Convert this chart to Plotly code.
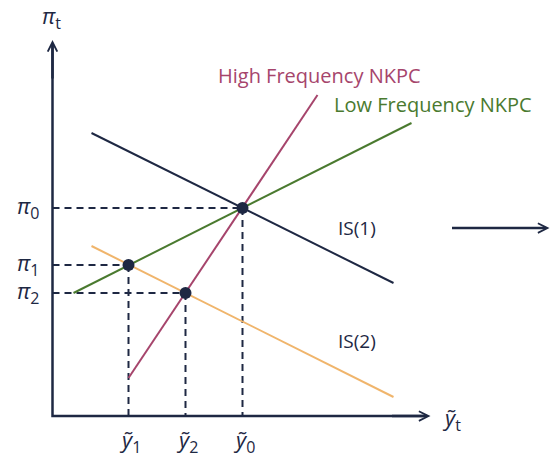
import plotly.graph_objects as go

# Coordinates are measured from the corner where the two axes meet.
# Output gaps on the horizontal axis and inflation rates on the vertical axis.
SUB = "<sub><span style='font-size:16px'>{}</span></sub>"
y_gap_labels = ["<i>ỹ</i>" + SUB.format("1"), "<i>ỹ</i>" + SUB.format("2"), "<i>ỹ</i>" + SUB.format("0")]
y_gap = [76, 133, 190]
pi_labels = ["<i>π</i>" + SUB.format("0"), "<i>π</i>" + SUB.format("1"), "<i>π</i>" + SUB.format("2")]
pi_vals = [208, 151, 123]

# Equilibria: (ỹ0, π0), (ỹ1, π1), (ỹ2, π2)
eq_x = [190, 76, 133]
eq_y = [208, 151, 123]

# Curve end points
is1_x = [39, 341]
is1_y = [283, 133]
is2_x = [39, 341]
is2_y = [170, 19]
lf_x = [21, 359]
lf_y = [123, 293]
hf_x = [76, 265]
hf_y = [38, 321]

# Axis extents
x_axis_end = 378
y_axis_end = 376

NAVY = "#1e2843"
CRIMSON = "#a6456c"
GREEN = "#4a7a2f"
ORANGE = "#f0b56c"
FONT = "Open Sans"

fig = go.Figure()

# Guide lines from the axes to each equilibrium
for gx, gy in zip(eq_x, eq_y):
    fig.add_trace(go.Scatter(x=[0, gx], y=[gy, gy], mode="lines",
                             line=dict(color=NAVY, width=2, dash="7px,5px"),
                             hoverinfo="skip", showlegend=False))
    fig.add_trace(go.Scatter(x=[gx, gx], y=[gy, 0], mode="lines",
                             line=dict(color=NAVY, width=2, dash="7px,5px"),
                             hoverinfo="skip", showlegend=False))

# IS and NKPC curves
for cx, cy, col in [(is2_x, is2_y, ORANGE), (lf_x, lf_y, GREEN),
                    (hf_x, hf_y, CRIMSON), (is1_x, is1_y, NAVY)]:
    fig.add_trace(go.Scatter(x=cx, y=cy, mode="lines",
                             line=dict(color=col, width=2),
                             hoverinfo="skip", showlegend=False))

# Axes
fig.add_trace(go.Scatter(x=[0, 0, x_axis_end - 4], y=[y_axis_end - 4, 0, 0], mode="lines",
                         line=dict(color=NAVY, width=2.5),
                         hoverinfo="skip", showlegend=False))

# Equilibrium points
fig.add_trace(go.Scatter(x=eq_x, y=eq_y, mode="markers",
                         marker=dict(color=NAVY, size=12),
                         hoverinfo="skip", showlegend=False))

arrow = dict(showarrow=True, arrowhead=5, arrowsize=0.75, arrowwidth=2.5,
             arrowcolor=NAVY, axref="x", ayref="y", xref="x", yref="y",
             standoff=0, text="")
fig.add_annotation(x=0, y=y_axis_end, ax=0, ay=y_axis_end - 40, **arrow)
fig.add_annotation(x=x_axis_end, y=0, ax=x_axis_end - 40, ay=0, **arrow)
# Shift arrow to the right
fig.add_annotation(x=497, y=188, ax=398, ay=188, **arrow)

txt = dict(showarrow=False, xref="x", yref="y")
# Tick labels
for lab, v in zip(pi_labels, pi_vals):
    fig.add_annotation(x=-11, y=v + 1, text=lab, xanchor="right", yanchor="middle",
                       font=dict(family=FONT, size=22, color=NAVY), **txt)
for lab, v in zip(y_gap_labels, y_gap):
    fig.add_annotation(x=v + 1, y=-25, text=lab, xanchor="center", yanchor="middle",
                       font=dict(family=FONT, size=22, color=NAVY), **txt)

# Axis titles
fig.add_annotation(x=-13, y=399, text="<i>π</i>" + SUB.format("t"), xanchor="left", yanchor="middle",
                   font=dict(family=FONT, size=22, color=NAVY), **txt)
fig.add_annotation(x=387, y=-3, text="<i>ỹ</i>" + SUB.format("t"), xanchor="left", yanchor="middle",
                   font=dict(family=FONT, size=22, color=NAVY), **txt)

# Curve labels
fig.add_annotation(x=163, y=341, text="High Frequency NKPC", xanchor="left", yanchor="middle",
                   font=dict(family=FONT, size=20, color=CRIMSON), **txt)
fig.add_annotation(x=279, y=312, text="Low Frequency NKPC", xanchor="left", yanchor="middle",
                   font=dict(family=FONT, size=20, color=GREEN), **txt)
fig.add_annotation(x=283, y=188, text="IS(1)", xanchor="left", yanchor="middle",
                   font=dict(family=FONT, size=19, color=NAVY), **txt)
fig.add_annotation(x=283, y=75, text="IS(2)", xanchor="left", yanchor="middle",
                   font=dict(family=FONT, size=19, color=NAVY), **txt)

fig.update_xaxes(range=[-52.5, 551 - 52.5], visible=False, fixedrange=True)
fig.update_yaxes(range=[-42, 416], visible=False, fixedrange=True)
fig.update_layout(width=551, height=458, margin=dict(l=0, r=0, t=0, b=0),
                  plot_bgcolor="white", paper_bgcolor="white")

fig.write_html("out.html")
